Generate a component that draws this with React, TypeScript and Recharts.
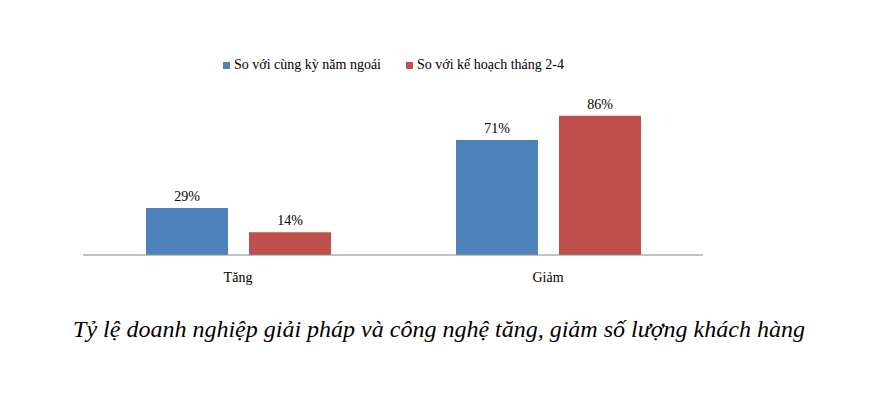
import React from "react";
import { BarChart, Bar, XAxis, YAxis, LabelList } from "recharts";

const categories = ["Tăng", "Giảm"];
const soVoiCungKy = [29, 71];
const soVoiKeHoach = [14, 86];
const seriesNames = ["So với cùng kỳ năm ngoái", "So với kế hoạch tháng 2-4"];
const seriesColors = ["#4F81BD", "#C0504D"];
const title = "Tỷ lệ doanh nghiệp giải pháp và công nghệ tăng, giảm số lượng khách hàng";

const chartData = categories.map((name, i) => ({
  name,
  a: soVoiCungKy[i],
  b: soVoiKeHoach[i],
}));

const FONT = "'Liberation Serif', 'Times New Roman', serif";

const renderTick = (props: any) => {
  const { x, y, payload } = props;
  return (
    <text
      x={x}
      y={y + 19}
      textAnchor="middle"
      fill="#000"
      style={{ fontFamily: FONT, fontSize: 14 }}
    >
      {payload.value}
    </text>
  );
};

const App: React.FC = () => {
  return (
    <div
      style={{
        position: "absolute",
        left: 0,
        top: 0,
        width: 869,
        height: 415,
        background: "#fff",
      }}
    >
      <BarChart
        width={869}
        height={300}
        data={chartData}
        margin={{ top: 93, right: 166, left: 83, bottom: 15 }}
        barGap={21}
        barSize={82}
      >
        <XAxis
          dataKey="name"
          height={30}
          axisLine={{ stroke: "#868686", strokeWidth: 1 }}
          tickLine={false}
          tick={renderTick}
          interval={0}
        />
        <YAxis hide domain={[0, 100]} width={0} />
        <Bar dataKey="a" fill={seriesColors[0]} isAnimationActive={false}>
          <LabelList
            dataKey="a"
            position="top"
            offset={7}
            formatter={(v: any) => `${v}%`}
            style={{ fontFamily: FONT, fontSize: 14, fill: "#000" }}
          />
        </Bar>
        <Bar dataKey="b" fill={seriesColors[1]} isAnimationActive={false}>
          <LabelList
            dataKey="b"
            position="top"
            offset={7}
            formatter={(v: any) => `${v}%`}
            style={{ fontFamily: FONT, fontSize: 14, fill: "#000" }}
          />
        </Bar>
      </BarChart>
      {/* legend */}
      <div
        style={{
          position: "absolute",
          top: 57,
          left: 0,
          width: 787,
          display: "flex",
          justifyContent: "center",
          gap: 25,
          fontFamily: FONT,
          fontSize: 14,
          color: "#000",
        }}
      >
        {seriesNames.map((n, i) => (
          <div key={n} style={{ display: "flex", alignItems: "center" }}>
            <span
              style={{
                display: "inline-block",
                width: 7,
                height: 7,
                background: seriesColors[i],
                marginRight: 4,
              }}
            />
            <span>{n}</span>
          </div>
        ))}
      </div>
      <div
        style={{
          position: "absolute",
          left: 0,
          top: 316,
          width: 878,
          textAlign: "center",
          fontFamily: FONT,
          fontStyle: "italic",
          fontSize: 24,
          color: "#000",
          whiteSpace: "nowrap",
        }}
      >
        {title}
      </div>
    </div>
  );
};

export default App;
